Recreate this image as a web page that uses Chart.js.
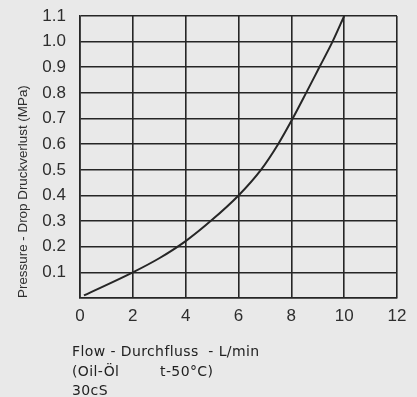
<!DOCTYPE html>
<html>
<head>
<meta charset="utf-8">
<script src="https://cdn.jsdelivr.net/npm/chart.js@4.4.1/dist/chart.umd.min.js"></script>
<style>
    html, body { margin: 0; padding: 0; background: #e9e9e9; }
    #wrap { width: 417px; height: 397px; position: relative; }
</style>
</head>
<body>
<div id="wrap"><canvas id="grafico"></canvas></div>
<script>
// Datos
const flowValues = [0.15, 2, 3, 4, 5, 6, 6.85, 7.5, 8.05, 8.56, 9.06, 9.56, 10];
const pressureValues = [0.01, 0.1, 0.155, 0.222, 0.305, 0.4, 0.5, 0.6, 0.7, 0.8, 0.9, 1.0, 1.1];
const xTicks = [0, 2, 4, 6, 8, 10, 12];
const yTicks = [0.1, 0.2, 0.3, 0.4, 0.5, 0.6, 0.7, 0.8, 0.9, 1.0, 1.1];

const yTitle = 'Pressure - Drop Druckverlust (MPa)';
const notas = ['Flow - Durchfluss  - L/min', '(Oil-Öl', 't-50°C)', '30cS'];

const colorLinea = '#262626';
const colorTexto = '#2e2e2e';

// Texto debajo del eje X
const textoInferior = {
    id: 'textoInferior',
    afterDraw(chart) {
        const { ctx, chartArea } = chart;
        ctx.save();
        ctx.fillStyle = '#222';
        ctx.font = '14px "DejaVu Sans", sans-serif';
        ctx.letterSpacing = '0.4px';
        ctx.textBaseline = 'middle';
        ctx.textAlign = 'left';
        const x0 = chartArea.left - 8;
        ctx.fillText(notas[0], x0, chartArea.bottom + 54);
        ctx.fillText(notas[1], x0, chartArea.bottom + 74);
        ctx.fillText(notas[2], chartArea.left + 80, chartArea.bottom + 74);
        ctx.fillText(notas[3], x0, chartArea.bottom + 93);
        ctx.restore();
    }
};

const ctx = document.getElementById('grafico').getContext('2d');

window.graficaPresion = new Chart(ctx, {
    type: 'line',
    data: {
        datasets: [{
            data: flowValues.map((f, i) => ({ x: f, y: pressureValues[i] })),
            borderColor: colorLinea,
            borderWidth: 2,
            pointRadius: 0,
            fill: false,
            cubicInterpolationMode: 'monotone'
        }]
    },
    options: {
        responsive: true,
        maintainAspectRatio: false,
        animation: false,
        layout: {
            padding: { top: 16, right: 20, left: 5, bottom: 0 }
        },
        plugins: {
            legend: { display: false },
            tooltip: { enabled: false }
        },
        scales: {
            x: {
                type: 'linear',
                min: 0,
                max: 12,
                afterBuildTicks: (scale) => { scale.ticks = xTicks.map(v => ({ value: v })); },
                afterFit: (scale) => { scale.height = 99; },
                ticks: {
                    color: colorTexto,
                    padding: 8,
                    font: { family: '"Liberation Sans", Arial, sans-serif', size: 17 }
                },
                grid: { color: colorLinea, lineWidth: 1.6, drawTicks: false },
                border: { color: colorLinea, width: 1.6 }
            },
            y: {
                min: 0,
                max: 1.1,
                afterBuildTicks: (scale) => { scale.ticks = [0].concat(yTicks).map(v => ({ value: v })); },
                afterFit: (scale) => {
                    scale.width = 75;
                    scale.paddingTop = 0;
                    scale.paddingBottom = 0;
                },
                ticks: {
                    color: colorTexto,
                    padding: 14,
                    font: { family: '"Liberation Sans", Arial, sans-serif', size: 17 },
                    callback: (value) => value === 0 ? '' : value.toFixed(1)
                },
                grid: { color: colorLinea, lineWidth: 1.6, drawTicks: false },
                border: { color: colorLinea, width: 1.6 },
                title: {
                    display: true,
                    text: yTitle,
                    align: 'start',
                    color: colorTexto,
                    padding: { top: 10, bottom: 0 },
                    font: { family: '"Liberation Sans", Arial, sans-serif', size: 13.4 }
                }
            }
        }
    },
    plugins: [textoInferior]
});
</script>
</body>
</html>
